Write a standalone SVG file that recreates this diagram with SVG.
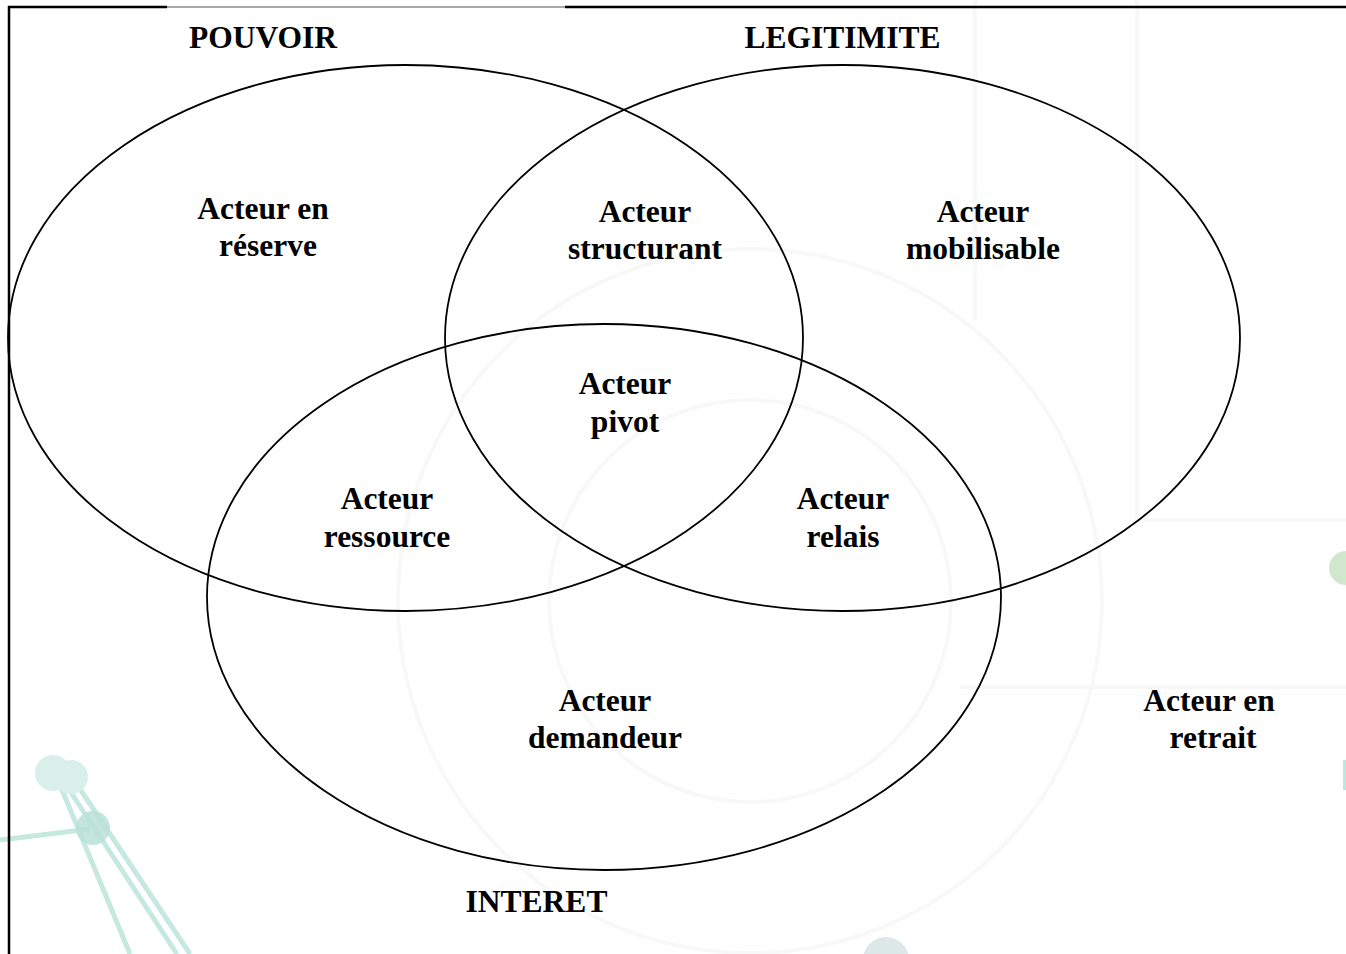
<svg xmlns="http://www.w3.org/2000/svg" width="1346" height="954" viewBox="0 0 1346 954">
<style>
.set{fill:none;stroke:#000;stroke-width:1.8}
.lbl{font-family:"Liberation Serif","Times New Roman",serif;font-weight:bold;font-size:31.5px;fill:#000;text-anchor:middle}
.wm{fill:none;stroke:#f8f8f8;stroke-width:4}
.gl{stroke:#c6e9df;stroke-width:5;fill:none}
</style>
<rect width="1346" height="954" fill="#fff"/>
<g id="background">
<circle class="wm" cx="750" cy="601" r="352"/>
<circle class="wm" cx="750" cy="601" r="201"/>
<path class="wm" d="M975 0 V320 M1137 0 V520 H1346 M960 687 H1346"/>
<line class="gl" x1="0" y1="840" x2="90" y2="829"/>
<line class="gl" x1="60" y1="785" x2="130" y2="954"/>
<line class="gl" x1="68" y1="788" x2="177" y2="954"/>
<line class="gl" x1="78" y1="786" x2="190" y2="954"/>
<circle cx="53" cy="773" r="18" fill="#d9f0ea"/>
<circle cx="71" cy="777" r="17" fill="#d9f0ea"/>
<circle cx="93" cy="828" r="17" fill="#b8e0d5" fill-opacity="0.85"/>
<circle cx="1346" cy="568" r="17" fill="#cfe8cc"/>
<rect x="1343" y="760" width="3" height="30" fill="#bfe5dc"/>
<circle cx="886" cy="960" r="23" fill="#dde9e6"/>
</g>
<g id="frame" stroke="#000" fill="none">
<line x1="8" y1="7" x2="167" y2="7" stroke-width="2.5"/>
<line x1="167" y1="7" x2="565" y2="7" stroke-width="1" stroke="#555"/>
<line x1="565" y1="7" x2="1346" y2="7" stroke-width="2.5"/>
<line x1="9" y1="6" x2="9" y2="954" stroke-width="2.5"/>
</g>
<g id="connectors"></g>
<g id="set-pouvoir">
<ellipse class="set" cx="405.5" cy="338" rx="397.5" ry="273"/>
<text class="lbl" x="263" y="48">POUVOIR</text>
</g>
<g id="set-legitimite">
<ellipse class="set" cx="842.5" cy="338" rx="397.5" ry="273"/>
<text class="lbl" x="842.5" y="48">LEGITIMITE</text>
</g>
<g id="set-interet">
<ellipse class="set" cx="604" cy="597" rx="397" ry="273"/>
<text class="lbl" x="536.5" y="912">INTERET</text>
</g>
<g id="node-reserve">
<text class="lbl" x="263" y="219">Acteur en</text>
<text class="lbl" x="268" y="256">réserve</text>
</g>
<g id="node-structurant">
<text class="lbl" x="645" y="222">Acteur</text>
<text class="lbl" x="645" y="259">structurant</text>
</g>
<g id="node-mobilisable">
<text class="lbl" x="983" y="222">Acteur</text>
<text class="lbl" x="983" y="259">mobilisable</text>
</g>
<g id="node-pivot">
<text class="lbl" x="625" y="394">Acteur</text>
<text class="lbl" x="625" y="432">pivot</text>
</g>
<g id="node-ressource">
<text class="lbl" x="387" y="509">Acteur</text>
<text class="lbl" x="387" y="547">ressource</text>
</g>
<g id="node-relais">
<text class="lbl" x="843" y="509">Acteur</text>
<text class="lbl" x="843" y="547">relais</text>
</g>
<g id="node-demandeur">
<text class="lbl" x="605" y="711">Acteur</text>
<text class="lbl" x="605" y="748">demandeur</text>
</g>
<g id="node-retrait">
<text class="lbl" x="1209" y="711">Acteur en</text>
<text class="lbl" x="1213" y="748">retrait</text>
</g>
</svg>
